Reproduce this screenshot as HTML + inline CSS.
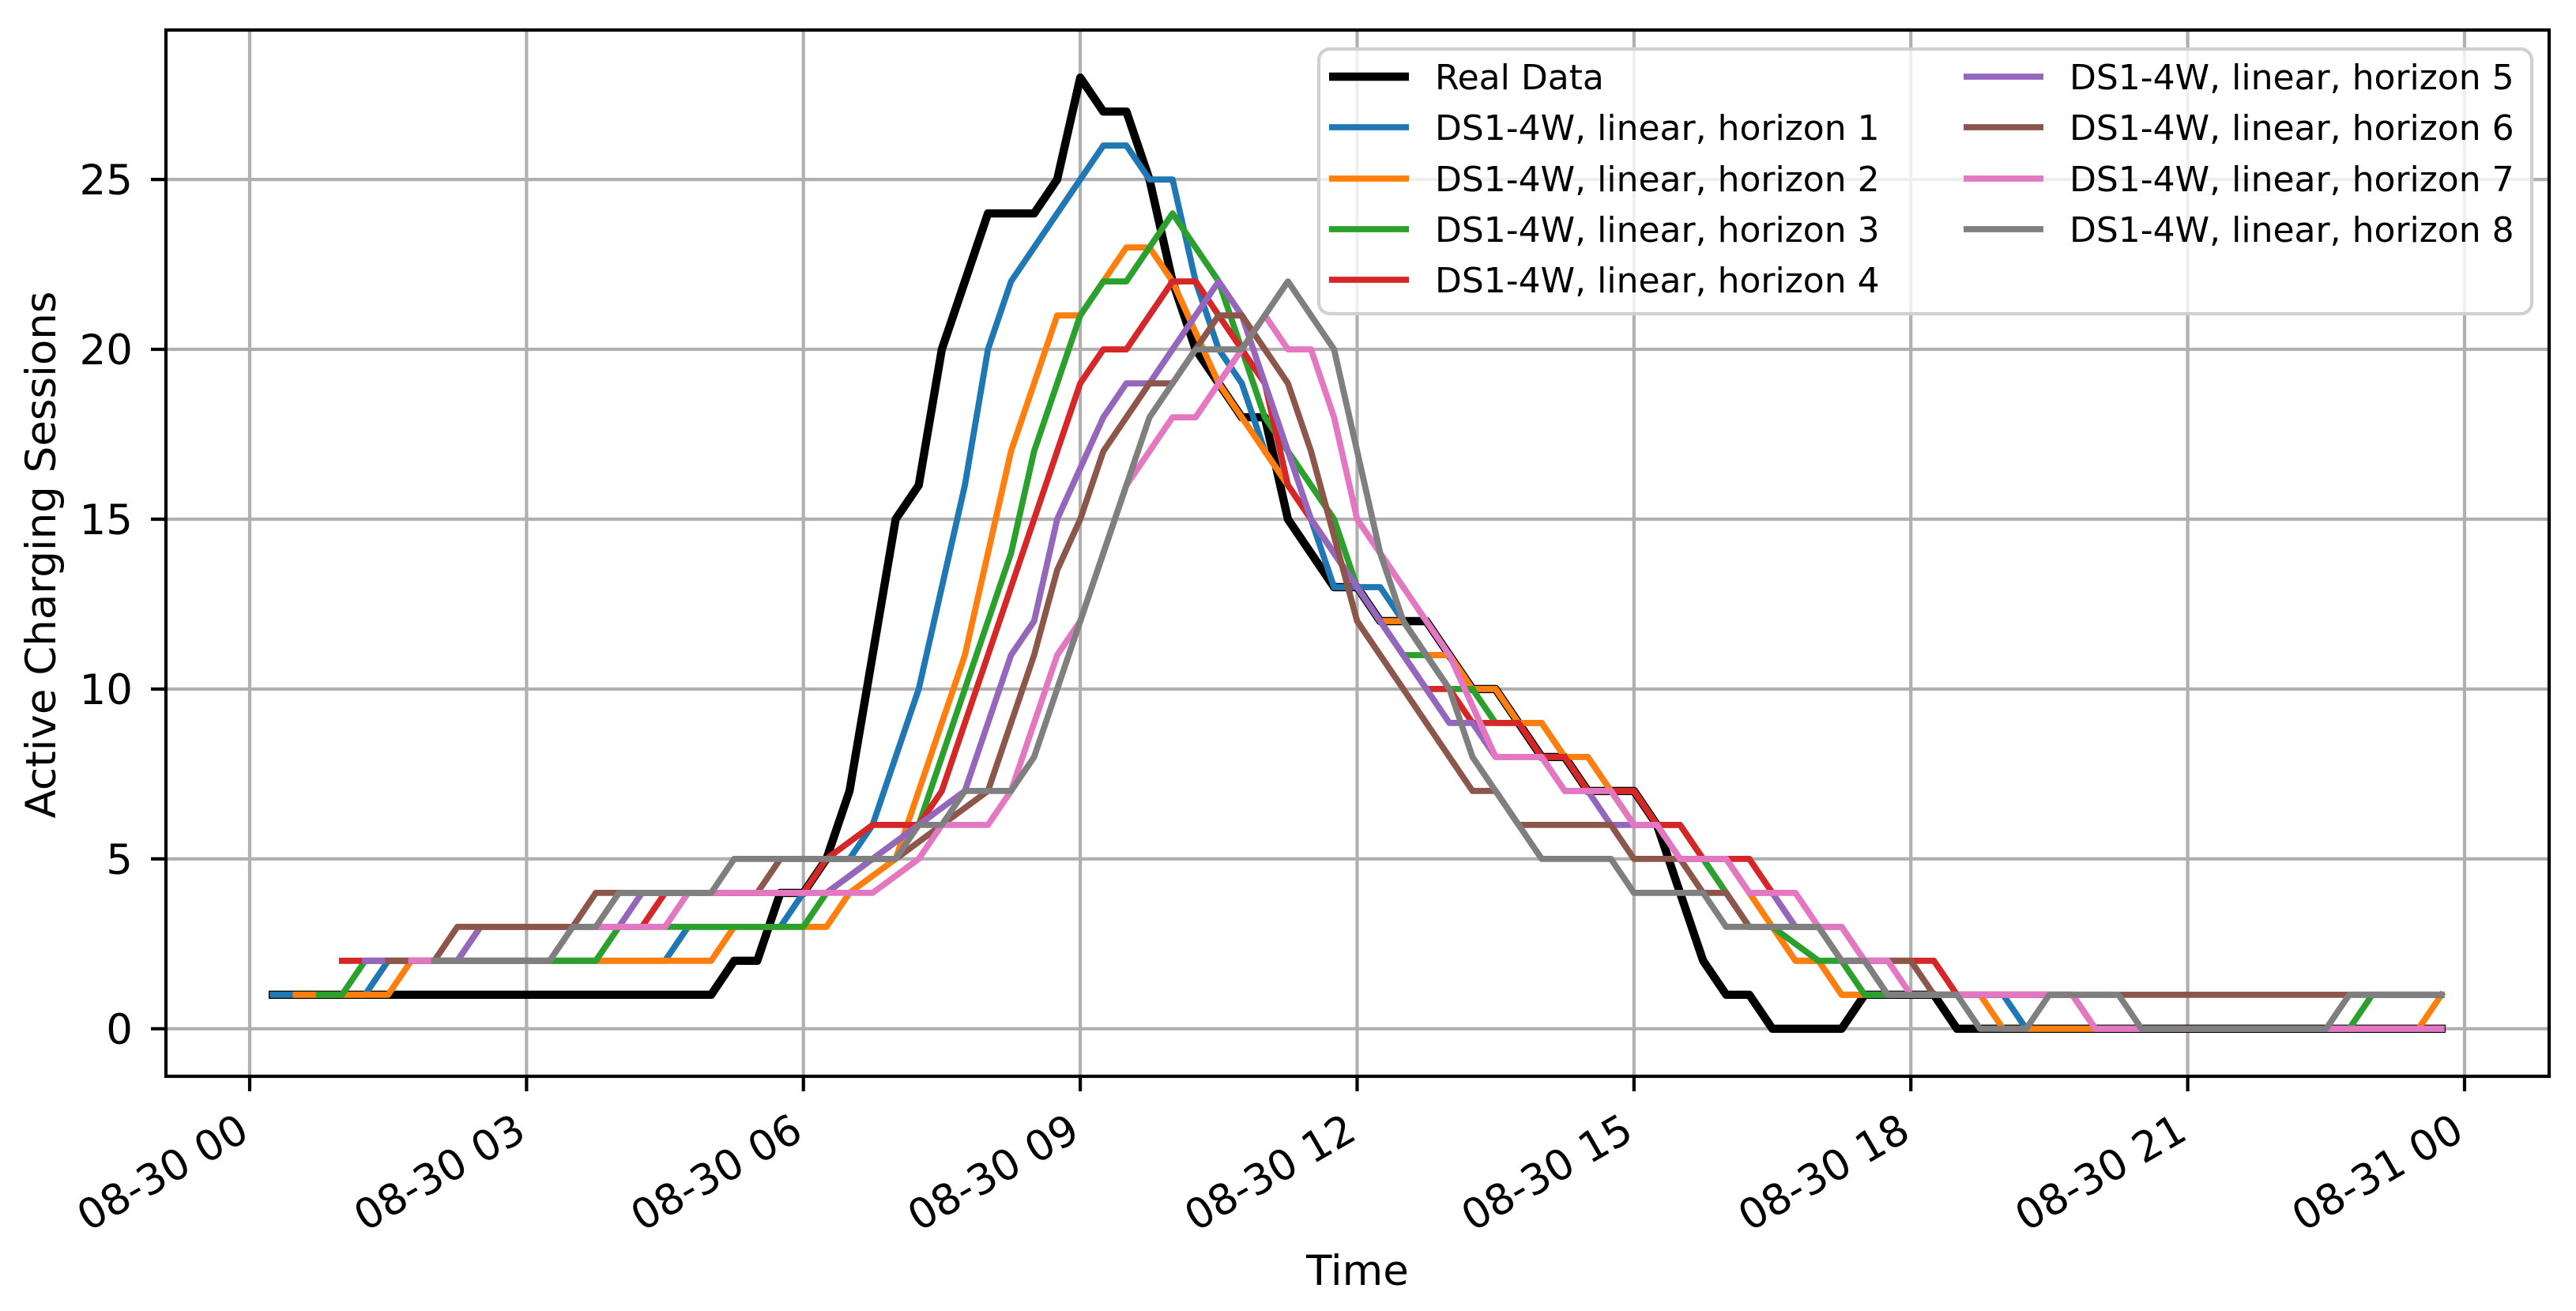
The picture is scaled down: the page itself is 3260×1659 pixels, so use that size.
<!DOCTYPE html>
<html>
<head>
<meta charset="utf-8">
<style>
  html, body { margin: 0; padding: 0; background: #ffffff; }
  svg { display: block; font-family: "DejaVu Sans", "Liberation Sans", sans-serif; }
</style>
</head>
<body>
<svg id="chart" xmlns="http://www.w3.org/2000/svg" width="3260" height="1659" viewBox="0 0 3260 1659">
  <rect x="0" y="0" width="3260" height="1659" fill="#ffffff"/>
  <g id="grid"></g>
  <g id="series"></g>
  <g id="axes"></g>
  <g id="legend"></g>
</svg>
<script>
// ---- data (one value per 15 minutes, index 0 = 08-30 00:00) ----
const tickHours = [0, 3, 6, 9, 12, 15, 18, 21, 24];
const tickLabels = ["08-30 00", "08-30 03", "08-30 06", "08-30 09", "08-30 12", "08-30 15", "08-30 18", "08-30 21", "08-31 00"];
const yTicks = [0, 5, 10, 15, 20, 25];
const seriesNames = ["Real Data", "DS1-4W, linear, horizon 1", "DS1-4W, linear, horizon 2", "DS1-4W, linear, horizon 3", "DS1-4W, linear, horizon 4", "DS1-4W, linear, horizon 5", "DS1-4W, linear, horizon 6", "DS1-4W, linear, horizon 7", "DS1-4W, linear, horizon 8"];
const N = null;
const realData = [N,1,1,1, 1,1,1,1, 1,1,1,1, 1,1,1,1, 1,1,1,1, 1,2,2,4, 4,5,7,11, 15,16,20,22, 24,24,24,25, 28,27,27,25, 22,20,19,18, 18,15,14,13, 13,12,12,12, 11,10,10,9, 8,8,7,7, 7,6,4,2, 1,1,0,0, 0,0,1,1, 1,1,0,0, 0,0,0,0, 0,0,0,0, 0,0,0,0, 0,0,0,0, 0,0,0,0];
const horizon1 = [N,1,1,1, 1,1,2,2, 2,2,2,2, 2,2,2,2, 2,2,2,3, 3,3,3,3, 4,5,5,6, 8,10,13,16, 20,22,23,24, 25,26,26,25, 25,22,20,19, 17,16,15,13, 13,13,12,11, 11,10,10,9, 9,8,8,7, 7,6,6,5, 4,3,3,2, 2,1,1,1, 1,1,1,1, 1,0,0,0, 0,0,0,0, 0,0,0,0, 0,0,0,0, 0,0,0,0];
const horizon2 = [N,N,1,1, 1,1,1,2, 2,2,2,2, 2,2,2,2, 2,2,2,2, 2,3,3,3, 3,3,4,4.5, 5,7,9,11, 14,17,19,21, 21,22,23,23, 22,20.5,19,18, 17,16,15,14, 13,12,12,11, 11,10,10,9, 9,8,8,7, 7,6,6,5, 5,4,3,2, 2,1,1,1, 1,1,1,1, 0,0,0,0, 0,0,0,0, 0,0,0,0, 0,0,0,0, 0,0,0,1];
const horizon3 = [N,N,N,1, 1,2,2,2, 2,2,2,2, 2,2,2,2, 3,3,3,3, 3,3,3,3, 3,4,4.5,5, 5.5,6,8,10, 12,14,17,19, 21,22,22,23, 24,23,22,20, 18,17,16,15, 13,12,11,11, 10,10,9,9, 8,8,7,7, 6,6,5,5, 4,3,3,2.5, 2,2,1,1, 1,1,1,1, 1,1,1,1, 0,0,0,0, 0,0,0,0, 0,0,0,0, 1,1,1,1];
const horizon4 = [N,N,N,N, 2,2,2,2, 2,2,3,3, 3,3,3,3, 3,3,4,4, 4,4,4,4, 4,5,5.5,6, 6,6,7,9, 11,13,15,17, 19,20,20,21, 22,22,21,20, 19,16,15,14, 13,12,11,10, 10,9,9,9, 8,8,7,7, 7,6,6,5, 5,5,4,3, 3,3,2,2, 2,2,1,1, 1,1,1,1, 0,0,0,0, 0,0,0,0, 0,0,0,0, 0,0,0,0];
const horizon5 = [N,N,N,N, N,2,2,2, 2,2,3,3, 3,3,3,3, 3,4,4,4, 4,4,4,4, 4,4,4.5,5, 5.5,6,6.5,7, 9,11,12,15, 16.5,18,19,19, 20,21,22,21, 19,17,15,14, 13,12,11,10, 9,9,8,8, 8,7,7,6, 6,6,5,5, 5,4,4,3, 3,2,2,1, 1,1,1,1, 1,1,1,1, 0,0,0,0, 0,0,0,0, 0,0,0,0, 0,0,0,0];
const horizon6 = [N,N,N,N, N,N,2,2, 2,3,3,3, 3,3,3,4, 4,4,4,4, 4,4,4,5, 5,5,5,5, 5,5.5,6,6.5, 7,9,11,13.5, 15,17,18,19, 19,20,21,21, 20,19,17,14.5, 12,11,10,9, 8,7,7,6, 6,6,6,6, 5,5,5,4, 4,3,3,3, 3,2,2,2, 2,1,1,1, 1,1,1,1, 1,1,1,1, 1,1,1,1, 1,1,1,1, 1,1,1,1];
const horizon7 = [N,N,N,N, N,N,N,2, 2,2,2,2, 2,2,3,3, 3,3,3,4, 4,4,4,4, 4,4,4,4, 4.5,5,6,6, 6,7,9,11, 12,14,16,17, 18,18,19,20, 21,20,20,18, 15,14,13,12, 11,9.5,8,8, 8,7,7,7, 6,6,5,5, 5,4,4,4, 3,3,2,2, 1,1,1,1, 1,1,1,1, 0,0,0,0, 0,0,0,0, 0,0,0,0, 0,0,0,0];
const horizon8 = [N,N,N,N, N,N,N,N, 2,2,2,2, 2,2,3,3, 4,4,4,4, 4,5,5,5, 5,5,5,5, 5,6,6,7, 7,7,8,10, 12,14,16,18, 19,20,20,20, 21,22,21,20, 17,14,12,11, 10,8,7,6, 5,5,5,5, 4,4,4,4, 3,3,3,3, 3,2,2,1, 1,1,1,0, 0,0,1,1, 1,1,0,0, 0,0,0,0, 0,0,0,1, 1,1,1,1];

const seriesData = [realData, horizon1, horizon2, horizon3, horizon4, horizon5, horizon6, horizon7, horizon8];
const seriesColors = ["#000000", "#1f77b4", "#ff7f0e", "#2ca02c", "#d62728", "#9467bd", "#8c564b", "#e377c2", "#7f7f7f"];
const seriesKeys = ["real-data", "horizon-1", "horizon-2", "horizon-3", "horizon-4", "horizon-5", "horizon-6", "horizon-7", "horizon-8"];

// ---- axes geometry ----
const AX = { left: 210, right: 3226, top: 38, bottom: 1362 };
const X0 = 316, PX_PER_HOUR = 116.79;
const Y_MIN = -1.4, Y_MAX = 29.4;
function xScale(h) { return X0 + h * PX_PER_HOUR; }
function yScale(v) { return AX.bottom - (v - Y_MIN) / (Y_MAX - Y_MIN) * (AX.bottom - AX.top); }

const NS = "http://www.w3.org/2000/svg";
function mk(tag, attrs, parent) {
  const el = document.createElementNS(NS, tag);
  for (const k in attrs) el.setAttribute(k, attrs[k]);
  parent.appendChild(el);
  return el;
}
const gGrid = document.getElementById("grid");
const gSeries = document.getElementById("series");
const gAxes = document.getElementById("axes");
const gLegend = document.getElementById("legend");

const defs = mk("defs", {}, document.getElementById("chart"));
const cp = mk("clipPath", { id: "plotclip" }, defs);
mk("rect", { x: AX.left, y: AX.top, width: AX.right - AX.left, height: AX.bottom - AX.top }, cp);
gSeries.setAttribute("clip-path", "url(#plotclip)");

tickHours.forEach(function (h, i) {
  const x = xScale(h);
  const ln = mk("line", { x1: x, x2: x, y1: AX.top, y2: AX.bottom, stroke: "#b0b0b0", "stroke-width": 4.2 }, gGrid);
  
  
});
yTicks.forEach(function (v) {
  const y = yScale(v);
  const ln = mk("line", { x1: AX.left, x2: AX.right, y1: y, y2: y, stroke: "#b0b0b0", "stroke-width": 4.2 }, gGrid);
  
  
});

seriesData.forEach(function (arr, s) {
  let d = "";
  let started = false;
  arr.forEach(function (v, i) {
    if (v === null) return;
    const x = xScale(i * 0.25), y = yScale(v);
    d += (started ? "L" : "M") + x.toFixed(1) + " " + y.toFixed(1) + " ";
    started = true;
  });
  const p = mk("path", { d: d, fill: "none", stroke: seriesColors[s], "stroke-width": s === 0 ? 10.4 : 7.8, "stroke-linejoin": "round", "stroke-linecap": "square" }, gSeries);
  
  
});

const frame = mk("rect", { x: AX.left, y: AX.top, width: AX.right - AX.left, height: AX.bottom - AX.top, fill: "none", stroke: "#000", "stroke-width": 4.2 }, gAxes);



tickHours.forEach(function (h, i) {
  const x = xScale(h);
  const t = mk("line", { x1: x, x2: x, y1: AX.bottom, y2: AX.bottom + 19, stroke: "#000", "stroke-width": 4.2 }, gAxes);
  
  
  const ax = x + 2, ay = 1440;
  const tx = mk("text", { x: ax, y: ay, "font-size": 53, "text-anchor": "end", fill: "#000", transform: "rotate(-30 " + ax + " " + ay + ")" }, gAxes);
  tx.textContent = tickLabels[i];
  
  
});

yTicks.forEach(function (v) {
  const y = yScale(v);
  const t = mk("line", { x1: AX.left - 19, x2: AX.left, y1: y, y2: y, stroke: "#000", "stroke-width": 4.2 }, gAxes);
  
  
  const tx = mk("text", { x: 168, y: y + 19, "font-size": 53, "text-anchor": "end", fill: "#000" }, gAxes);
  tx.textContent = String(v);
  
  
});

const xt = mk("text", { x: (AX.left + AX.right) / 2, y: 1626, "font-size": 53, "text-anchor": "middle", fill: "#000" }, gAxes);
xt.textContent = "Time";


const yt = mk("text", { x: 0, y: 0, "font-size": 53, "text-anchor": "middle", fill: "#000", transform: "translate(70 702) rotate(-90)" }, gAxes);
yt.textContent = "Active Charging Sessions";



const lb = mk("rect", { x: 1669, y: 62, width: 3204 - 1669, height: 397 - 62, rx: 14, ry: 14, fill: "#ffffff", "fill-opacity": 0.8, stroke: "#d0d0d0", "stroke-width": 4.2 }, gLegend);


const rowY = [97, 161, 226, 290, 354];
seriesNames.forEach(function (name, s) {
  const col = s < 5 ? 0 : 1;
  const row = s < 5 ? s : s - 5;
  const hx = col === 0 ? 1682 : 2485;
  const y = rowY[row];
  const g = mk("g", {}, gLegend);
  
  
  const h = mk("line", { x1: hx, x2: hx + 101, y1: y, y2: y, stroke: seriesColors[s], "stroke-width": s === 0 ? 10.4 : 7.8 }, g);
  
  
  const t = mk("text", { x: hx + 134, y: y + 16, "font-size": 44, fill: "#000" }, g);
  t.textContent = name;
  
  
});
</script>
</body>
</html>
